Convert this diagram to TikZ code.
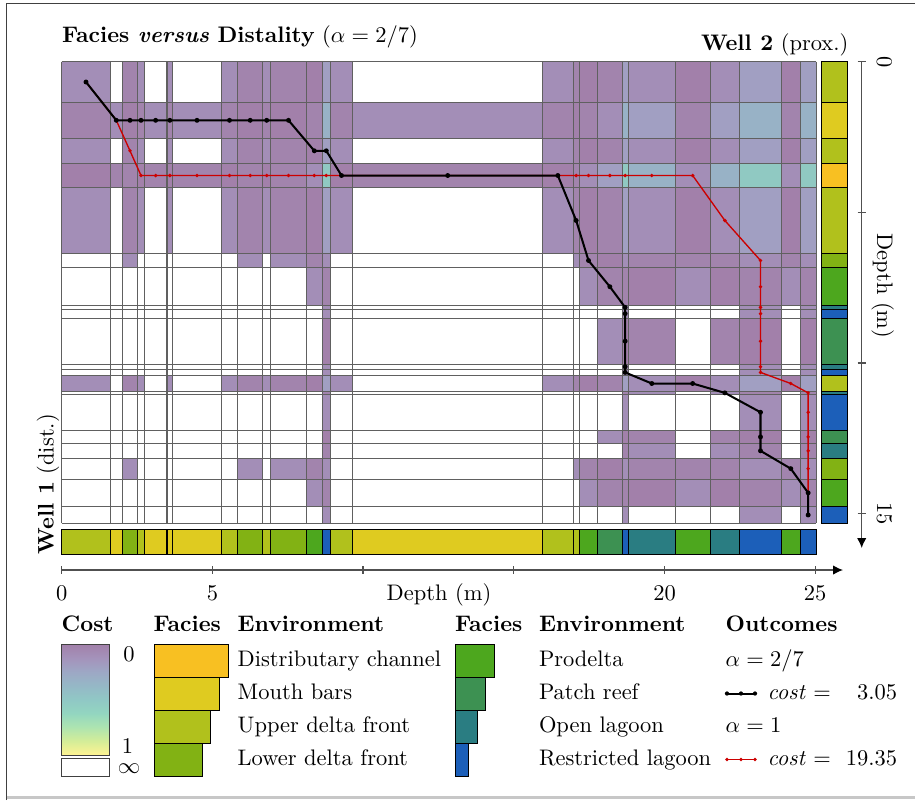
\documentclass[tikz,border=0pt]{standalone}
\usepackage{fontspec}
\usetikzlibrary{arrows.meta}
% facies colours
\definecolor{fac1}{HTML}{F8C022}
\definecolor{fac2}{HTML}{DFCB20}
\definecolor{fac3}{HTML}{B1C11C}
\definecolor{fac4}{HTML}{82B214}
\definecolor{fac5}{HTML}{4DA71E}
\definecolor{fac6}{HTML}{3D9152}
\definecolor{fac7}{HTML}{2A7D82}
\definecolor{fac8}{HTML}{1C5FB9}
% cost colours by facies difference
\definecolor{cost0}{HTML}{A38EB7}
\definecolor{cost1}{HTML}{A284AD}
\definecolor{cost2}{HTML}{A280AA}
\definecolor{cost3}{HTML}{A284AD}
\definecolor{cost4}{HTML}{A38EB7}
\definecolor{cost5}{HTML}{A19FC2}
\definecolor{cost6}{HTML}{98B2C6}
\definecolor{cost7}{HTML}{90C9C2}
% colour bar
\definecolor{v0}{HTML}{A280AA}
\definecolor{v1}{HTML}{A493BB}
\definecolor{v2}{HTML}{9DA8C5}
\definecolor{v3}{HTML}{95B8C6}
\definecolor{v4}{HTML}{90C8C5}
\definecolor{v5}{HTML}{93D6C0}
\definecolor{v6}{HTML}{AEE4B0}
\definecolor{v7}{HTML}{D4ED98}
\definecolor{v8}{HTML}{FEF392}
\definecolor{gridc}{HTML}{606060}
\definecolor{axc}{HTML}{505050}
\definecolor{redp}{HTML}{CC0000}
\pgfdeclareverticalshading{costbar}{100bp}{color(0bp)=(v8); color(25bp)=(v8); color(31.25bp)=(v7); color(37.5bp)=(v6); color(43.75bp)=(v5); color(50bp)=(v4); color(56.25bp)=(v3); color(62.5bp)=(v2); color(68.75bp)=(v1); color(75bp)=(v0); color(100bp)=(v0)}
% well 1 (columns): boundaries, cost class, bar colour
\def\XB{{61.7,110.3,122.3,137.7,144.3,167,172.7,221.3,237.7,262.7,270.7,306.3,322.3,330.3,352.7,542.7,573,579.3,597.7,622,628.3,675.3,710,739.7,781.3,800.3,816}}
\def\FA{{3,2,4,3,2,3,2,3,4,3,4,5,8,3,2,3,4,5,6,8,7,5,7,8,5,8}}
\def\CA{{3,2,4,3,2,2,2,3,4,3,4,5,8,3,2,3,3,5,6,8,7,5,7,8,5,8}}
% well 2 (rows)
\def\YB{{61.7,102.3,138.3,163.3,187.7,253.3,267.7,305.7,309,318.3,364,369.5,375.3,391.7,394,430.5,443.3,458.3,479,506.7,523.3}}
\def\FB{{3,2,3,1,3,4,5,8,8,6,8,8,3,7,8,6,7,4,5,8}}
\def\CB{{3,2,3,1,3,4,5,7,8,6,7,8,3,7,8,6,7,4,5,8}}
\begin{document}
\begin{tikzpicture}[x=0.445pt,y=-0.445pt,
  gridline/.style={draw=gridc,line width=0.45pt},
  barseg/.style={draw=black,line width=0.45pt},
  axisline/.style={draw=axc,line width=0.6pt},
  axisarrow/.style={-{Latex[length=4.4pt,width=4.2pt,color=black]}},
  blackpath/.style={draw=black,line width=0.9pt,line join=round},
  redpath/.style={draw=redp,line width=0.6pt,line join=round},
  lbl/.style={inner sep=0pt,outer sep=0pt}]
\useasboundingbox (0,0) rectangle (915,800);
% frame
\draw[black!75,line width=0.45pt] (6.7,800) -- (6.7,3.3) -- (915,3.3);
\draw[black!22,line width=1.2pt] (6.7,797.5) -- (915,797.5);
% cost cells
\foreach \i in {0,...,25}{
  \foreach \j in {0,...,19}{
    \pgfmathtruncatemacro\k{\FA[\i]-\FB[\j]}
    \ifnum\k<0\relax\else
      \pgfmathsetmacro\xa{\XB[\i]}
      \pgfmathsetmacro\xb{\XB[\i+1]}
      \pgfmathsetmacro\ya{\YB[\j]}
      \pgfmathsetmacro\yb{\YB[\j+1]}
      \fill[cost\k] (\xa,\ya) rectangle (\xb,\yb);
    \fi
  }
}
% grid lines
\foreach \i in {0,...,26}{
  \pgfmathsetmacro\xa{\XB[\i]}
  \draw[gridline] (\xa,61.7) -- (\xa,523.3);
}
\foreach \j in {0,...,20}{
  \pgfmathsetmacro\ya{\YB[\j]}
  \draw[gridline] (61.7,\ya) -- (816,\ya);
}
% well 1 bar
\foreach \i in {0,...,25}{
  \pgfmathsetmacro\xa{\XB[\i]}
  \pgfmathsetmacro\xb{\XB[\i+1]}
  \pgfmathtruncatemacro\f{\CA[\i]}
  \filldraw[barseg,fill=fac\f] (\xa,529.3) rectangle (\xb,554.7);
}
% well 2 bar
\foreach \j in {0,...,19}{
  \pgfmathsetmacro\ya{\YB[\j]}
  \pgfmathsetmacro\yb{\YB[\j+1]}
  \pgfmathtruncatemacro\f{\CB[\j]}
  \filldraw[barseg,fill=fac\f] (821,\ya) rectangle (847,\yb);
}
% path coordinates
\foreach [count=\n from 0] \i/\j in {0/0,1/1,2/1,3/1,4/1,5/1,6/1,7/1,8/1,9/1,10/1,11/2,12/2,13/3,14/3,15/3,16/4,17/5,18/6,19/7,19/8,19/9,19/10,19/11,20/12,21/12,22/13,23/14,23/15,23/16,24/17,25/18,25/19}{
  \pgfmathsetmacro\xa{\XB[\i]}
  \pgfmathsetmacro\xb{\XB[\i+1]}
  \pgfmathsetmacro\ya{\YB[\j]}
  \pgfmathsetmacro\yb{\YB[\j+1]}
  \pgfmathsetmacro\cx{(\xa+\xb)/2}
  \pgfmathsetmacro\cy{(\ya+\yb)/2}
  \coordinate (b\n) at (\cx,\cy);
}
\foreach [count=\n from 0] \i/\j in {0/0,1/1,2/2,3/3,4/3,5/3,6/3,7/3,8/3,9/3,10/3,11/3,12/3,13/3,14/3,15/3,16/3,17/3,18/3,19/3,20/3,21/3,22/4,23/5,23/6,23/7,23/8,23/9,23/10,23/11,24/12,25/13,25/14,25/15,25/16,25/17,25/18,25/19}{
  \pgfmathsetmacro\xa{\XB[\i]}
  \pgfmathsetmacro\xb{\XB[\i+1]}
  \pgfmathsetmacro\ya{\YB[\j]}
  \pgfmathsetmacro\yb{\YB[\j+1]}
  \pgfmathsetmacro\cx{(\xa+\xb)/2}
  \pgfmathsetmacro\cy{(\ya+\yb)/2}
  \coordinate (r\n) at (\cx,\cy);
}
% red path
\draw[redpath] (r0) \foreach \n in {1,...,37}{ -- (r\n)};
\foreach \n in {0,...,37}{\fill[redp] (r\n) circle (0.85pt);}
% black path
\draw[blackpath] (b0) \foreach \n in {1,...,32}{ -- (b\n)};
\foreach \n in {0,...,32}{\fill[black] (b\n) circle (1.1pt);}
% texts
\node[lbl,anchor=base west] (title) at (62,42.7) {\textbf{Facies \textit{versus} Distality} ($\alpha = 2/7$)};
\node[lbl,anchor=base east] (well2) at (848.3,50) {\textbf{Well 2} (prox.)};
\node[lbl,rotate=90,anchor=base west] (well1) at (53.5,554) {\textbf{Well 1} (dist.)};
% horizontal axis
\coordinate (hx0) at (61.7,570);
\coordinate (hx1) at (843,570);
\draw[axisline,axisarrow] (hx0) -- (hx1);
\foreach \t in {0,...,5}{
  \draw[axisline] (61.7+150.7*\t,566) -- (61.7+150.7*\t,574);
}
\node[lbl,anchor=base] (t0) at (61.7,600) {0};
\node[lbl,anchor=base] (t5) at (212.4,600) {5};
\node[lbl,anchor=base] (t20) at (664.5,600) {20};
\node[lbl,anchor=base] (t25) at (815.2,600) {25};
\node[lbl,anchor=base] (hdepth) at (439,600) {Depth (m)};
% vertical axis
\coordinate (vy0) at (861.7,61.7);
\coordinate (vy1) at (861.7,548);
\draw[axisline,axisarrow] (vy0) -- (vy1);
\foreach \t in {0,...,3}{
  \draw[axisline] (857.5,61.7+150.7*\t) -- (865.9,61.7+150.7*\t);
}
\node[lbl,rotate=-90,anchor=base] (v0l) at (877,61.7) {0};
\node[lbl,rotate=-90,anchor=base] (v15l) at (877,513.8) {15};
\node[lbl,rotate=-90,anchor=base] (vdepth) at (877,286) {Depth (m)};
% legend: cost
\node[lbl,anchor=base west] (hcost) at (61.7,631) {\textbf{Cost}};
\shade[shading=costbar] (61.7,644.3) rectangle (109.3,755);
\draw[black!75,line width=0.45pt] (61.7,644.3) rectangle (109.3,755);
\draw[black!75,line width=0.45pt,fill=white] (61.7,758.3) rectangle (109.3,776.7);
\node[lbl,anchor=base] (c0) at (129,661.7) {0};
\node[lbl,anchor=base] (c1) at (127.5,753.5) {1};
\node[lbl] (cinf) at (129,769) {$\infty$};
% legend: facies 1-4
\node[lbl,anchor=base west] (hf1) at (153.5,631) {\textbf{Facies}};
\node[lbl,anchor=base west] (he1) at (237.7,631) {\textbf{Environment}};
\foreach \f/\name [count=\n from 0] in {1/Distributary channel,2/Mouth bars,3/Upper delta front,4/Lower delta front}{
  \filldraw[barseg,fill=fac\f] (154.3,644+33*\n) rectangle (154.3+13.3+8.67*8-8.67*\f,677+33*\n);
  \node[lbl,anchor=base west] at (237.7,666+33*\n) {\name};
}
% legend: facies 5-8
\node[lbl,anchor=base west] (hf2) at (455,631) {\textbf{Facies}};
\node[lbl,anchor=base west] (he2) at (539,631) {\textbf{Environment}};
\foreach \f/\name [count=\n from 0] in {5/Prodelta,6/Patch reef,7/Open lagoon,8/Restricted lagoon}{
  \filldraw[barseg,fill=fac\f] (455.3,644+33*\n) rectangle (455.3+13.3+8.67*8-8.67*\f,677+33*\n);
  \node[lbl,anchor=base west] at (539,666+33*\n) {\name};
}
% legend: outcomes
\node[lbl,anchor=base west] (hout) at (725.7,631) {\textbf{Outcomes}};
\node[lbl,anchor=base west] (a1) at (725.7,666) {$\alpha = 2/7$};
\coordinate (lb0) at (727,693.5);
\coordinate (lb1) at (741,693.5);
\coordinate (lb2) at (755,693.5);
\draw[blackpath] (lb0) -- (lb2);
\foreach \p in {lb0,lb1,lb2}{\fill[black] (\p) circle (0.95pt);}
\node[lbl,anchor=base west] (cost1) at (767.7,699) {\textit{cost} =};
\node[lbl,anchor=base east] (val1) at (897,699) {3.05};
\node[lbl,anchor=base west] (a2) at (725.7,732) {$\alpha = 1$};
\coordinate (lr0) at (727,759.5);
\coordinate (lr1) at (741,759.5);
\coordinate (lr2) at (755,759.5);
\draw[redpath] (lr0) -- (lr2);
\foreach \p in {lr0,lr1,lr2}{\fill[redp] (\p) circle (0.85pt);}
\node[lbl,anchor=base west] (cost2) at (767.7,765) {\textit{cost} =};
\node[lbl,anchor=base east] (val2) at (897,765) {19.35};
\end{tikzpicture}
\end{document}
